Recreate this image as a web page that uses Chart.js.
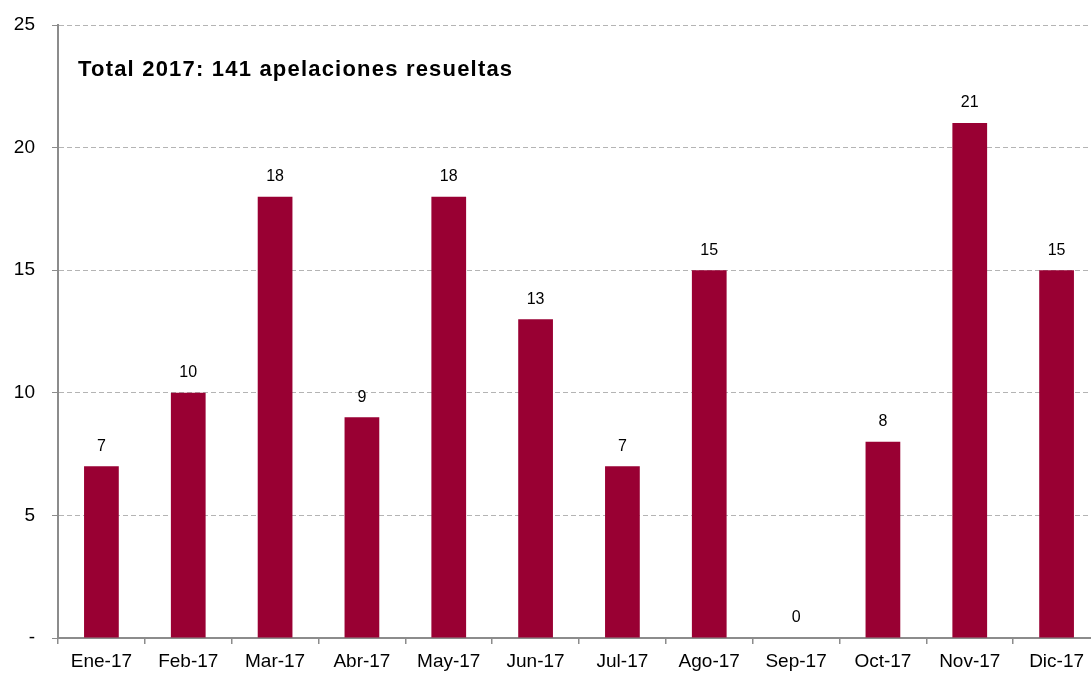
<!DOCTYPE html>
<html lang="es">
<head>
<meta charset="UTF-8">
<title>Apelaciones resueltas 2017</title>
<script src="https://cdn.jsdelivr.net/npm/chart.js"></script>
<style>
  html, body { margin: 0; padding: 0; background: #fff; overflow: hidden; }
  #wrap { width: 1101px; height: 675px; position: relative; }
</style>
</head>
<body>
<div id="wrap"><canvas id="grafico"></canvas></div>
<script>
const meses = ['Ene-17', 'Feb-17', 'Mar-17', 'Abr-17', 'May-17', 'Jun-17', 'Jul-17', 'Ago-17', 'Sep-17', 'Oct-17', 'Nov-17', 'Dic-17'];
const apelaciones = [7, 10, 18, 9, 18, 13, 7, 15, 0, 8, 21, 15];
const ticksY = [0, 5, 10, 15, 20, 25];
const titulo = 'Total 2017: 141 apelaciones resueltas';

const fuente = '"Liberation Sans", Arial, sans-serif';

// etiquetas encima de cada barra + titulo dentro del area
const etiquetas = {
  id: 'etiquetas',
  afterDatasetsDraw(chart) {
    const ctx = chart.ctx;
    const meta = chart.getDatasetMeta(0);
    ctx.save();
    ctx.font = '16px ' + fuente;
    ctx.fillStyle = '#000';
    ctx.textAlign = 'center';
    ctx.textBaseline = 'middle';
    meta.data.forEach((bar, i) => {
      ctx.fillText(String(apelaciones[i]), bar.x, bar.y - 20);
    });
    ctx.font = 'bold 22px ' + fuente;
    ctx.letterSpacing = '1.2px';
    ctx.textAlign = 'left';
    ctx.fillText(titulo, chart.chartArea.left + 20, chart.chartArea.top + 45);
    ctx.restore();
  }
};

new Chart(document.getElementById('grafico'), {
  type: 'bar',
  data: {
    labels: meses,
    datasets: [{
      data: apelaciones,
      backgroundColor: '#990033',
      barPercentage: 0.4,
      categoryPercentage: 1
    }]
  },
  options: {
    responsive: true,
    maintainAspectRatio: false,
    animation: false,
    layout: { padding: { top: 25, right: 1, left: 0, bottom: 0 } },
    plugins: {
      legend: { display: false },
      tooltip: { enabled: false }
    },
    scales: {
      x: {
        grid: {
          offset: true,
          drawOnChartArea: false,
          drawTicks: true,
          tickLength: 6,
          color: '#8c8c8c',
          lineWidth: 1.5
        },
        border: { color: '#8c8c8c', width: 2 },
        ticks: {
          color: '#000',
          font: { family: fuente, size: 19 },
          maxRotation: 0,
          padding: 6
        },
        afterFit(axis) { axis.height = 37; }
      },
      y: {
        min: 0,
        max: 25,
        afterBuildTicks(axis) { axis.ticks = ticksY.map(v => ({ value: v })); },
        grid: {
          color: '#b4b4b4',
          lineWidth: 1,
          tickLength: 6,
          tickColor: '#8c8c8c',
          tickBorderDash: []
        },
        border: { color: '#8c8c8c', width: 2, dash: [5, 3] },
        ticks: {
          color: '#000',
          font: { family: fuente, size: 19 },
          padding: 17,
          callback: v => v === 0 ? '-' : v
        },
        afterFit(axis) {
          axis.width = 58;
          axis.paddingTop = 0;
          axis.paddingBottom = 0;
        }
      }
    }
  },
  plugins: [etiquetas]
});
</script>
</body>
</html>
